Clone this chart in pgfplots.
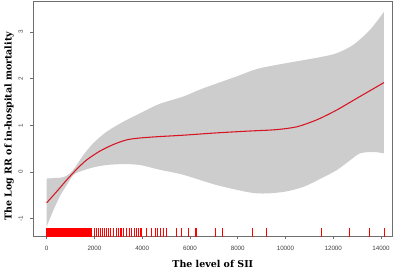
\documentclass[border=0pt]{standalone}
\usepackage{fontspec}
\setmainfont{DejaVu Serif}
\newfontfamily\ticksf{Liberation Sans}
\usepackage{pgfplots}
\pgfplotsset{compat=1.18}
\usepgfplotslibrary{fillbetween}
\definecolor{bandgray}{RGB}{205,205,205}
\definecolor{curvered}{RGB}{215,20,35}
\definecolor{boxgray}{RGB}{110,110,110}
\begin{document}
\begin{tikzpicture}
\begin{axis}[
  scale only axis,
  width=269.25pt, height=176.1pt,
  xmin=-561, xmax=14472, ymin=-1.384, ymax=3.655,
  xtick={0,2000,4000,6000,8000,10000,12000,14000},
  ytick={-1,0,1,2,3},
  scaled x ticks=false, scaled y ticks=false,
  tick align=outside, tick pos=left,
  major tick length=2.2pt,
  axis line style={boxgray, line width=0.6pt},
  every tick/.style={boxgray, line width=0.5pt},
  tick label style={font=\ticksf\fontsize{4.7}{5}\selectfont, text=black!75},
  /pgf/number format/1000 sep={},
  /pgf/number format/assume math mode=true,
  xticklabel style={anchor=base},
  yticklabel style={rotate=90, anchor=base},
  xticklabel shift=8.1pt,
  yticklabel shift=5.7pt,
  every axis x label/.style={at={(rel axis cs:0.5,0)}, anchor=base, yshift=-23.6pt},
  every axis y label/.style={at={(rel axis cs:0,0.47)}, xshift=-16.2pt, rotate=90, anchor=base},
  label style={font=\bfseries\fontsize{7.1}{8}\selectfont},
  xlabel={The level of SII},
  ylabel={The Log RR of in-hospital mortality},
]
\addplot[name path=U, draw=none, smooth] coordinates {
(0,-0.14) (300,-0.13) (697,-0.11) (976,-0.03) (1256,0.15) (1535,0.365)
(1953,0.62) (2512,0.865) (3210,1.08) (3907,1.26) (4717,1.46) (5720,1.62)
(6420,1.77) (7119,1.90) (8000,2.06) (8794,2.21) (9741,2.31) (10745,2.40)
(11500,2.47) (12144,2.55) (12839,2.73) (13539,3.05) (14125,3.44)};
\addplot[name path=L, draw=none, smooth] coordinates {
(0,-1.17) (279,-0.82) (557,-0.515) (837,-0.28) (1116,-0.065) (1394,0.01)
(1953,0.10) (2512,0.15) (3210,0.17) (3907,0.15) (4717,0.05) (5720,-0.06)
(7119,-0.28) (8513,-0.44) (9213,-0.46) (10000,-0.42) (10745,-0.32)
(11444,-0.15) (12144,0.04) (12700,0.25) (13120,0.40) (13677,0.43) (14125,0.40)};
\addplot[bandgray, draw=none] fill between[of=U and L];
\addplot[curvered, line width=0.8pt, smooth] coordinates {
(0,-0.66) (418,-0.42) (837,-0.17) (1256,0.06) (1675,0.26) (2232,0.45)
(2791,0.59) (3350,0.69) (3907,0.73) (4700,0.76) (5720,0.79) (7119,0.84)
(8513,0.88) (9351,0.90) (9909,0.925) (10469,0.97) (10955,1.05) (11444,1.15)
(12144,1.33) (12982,1.58) (14125,1.92)};
\addplot[only marks, mark=|, mark size=3.1pt, red, mark options={line width=0.6pt}] coordinates {
(0,-1.296) (30,-1.296) (60,-1.296) (90,-1.296) (120,-1.296) (150,-1.296)
(180,-1.296) (210,-1.296) (240,-1.296) (270,-1.296) (300,-1.296) (330,-1.296)
(360,-1.296) (390,-1.296) (420,-1.296) (450,-1.296) (480,-1.296) (510,-1.296)
(540,-1.296) (570,-1.296) (600,-1.296) (630,-1.296) (660,-1.296) (690,-1.296)
(720,-1.296) (750,-1.296) (780,-1.296) (810,-1.296) (840,-1.296) (870,-1.296)
(900,-1.296) (930,-1.296) (960,-1.296) (990,-1.296) (1020,-1.296) (1050,-1.296)
(1080,-1.296) (1110,-1.296) (1140,-1.296) (1170,-1.296) (1200,-1.296) (1230,-1.296)
(1260,-1.296) (1290,-1.296) (1320,-1.296) (1350,-1.296) (1380,-1.296) (1410,-1.296)
(1440,-1.296) (1470,-1.296) (1500,-1.296) (1530,-1.296) (1560,-1.296) (1590,-1.296)
(1620,-1.296) (1650,-1.296) (1680,-1.296) (1710,-1.296) (1740,-1.296) (1770,-1.296)
(1800,-1.296) (1830,-1.296) (1860,-1.296) (1884,-1.296)
(1981,-1.296) (2093,-1.296) (2163,-1.296) (2232,-1.296) (2316,-1.296) (2400,-1.296)
(2512,-1.296) (2581,-1.296) (2651,-1.296) (2791,-1.296) (2902,-1.296) (3000,-1.296)
(3070,-1.296) (3140,-1.296) (3210,-1.296) (3350,-1.296) (3461,-1.296) (3558,-1.296)
(3656,-1.296) (3740,-1.296) (3837,-1.296) (3907,-1.296) (3977,-1.296) (4158,-1.296)
(4397,-1.296) (4535,-1.296) (4633,-1.296) (4745,-1.296) (4884,-1.296) (5025,-1.296)
(5444,-1.296) (5653,-1.296) (5930,-1.296) (6210,-1.296) (6281,-1.296) (7048,-1.296)
(7355,-1.296) (8626,-1.296) (9213,-1.296) (11487,-1.296) (12660,-1.296)
(13525,-1.296) (14125,-1.296)};
\end{axis}
\pgfresetboundingbox
\path[use as bounding box] ([shift={(-25pt,-25.1pt)}]current axis.south west) rectangle ([shift={(5.8pt,1.3pt)}]current axis.north east);
\end{tikzpicture}
\end{document}
